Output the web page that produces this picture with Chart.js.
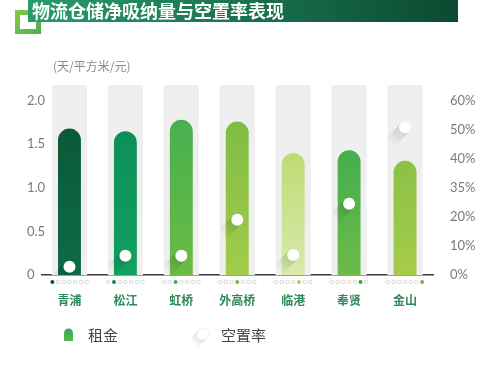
<!DOCTYPE html>
<html>
<head>
<meta charset="utf-8">
<script src="https://cdn.jsdelivr.net/npm/chart.js@4/dist/chart.umd.min.js"></script>
<style>
  html,body{margin:0;padding:0;background:#fff;}
  #wrap{width:500px;height:367px;position:relative;}
</style>
</head>
<body>
<div id="wrap"><canvas id="c" width="500" height="367"></canvas></div>
<script>
// 数据
const districts = ['青浦','松江','虹桥','外高桥','临港','奉贤','金山'];
const rent = [1.68, 1.65, 1.78, 1.76, 1.40, 1.43, 1.31];
const vacancy = [2.8, 6.6, 6.6, 19, 6.9, 24.5, 50.8];
const leftTicks = [0, 0.5, 1, 1.5, 2];
const leftTickLabels = ['0', '0.5', '1.0', '1.5', '2.0'];
const rightTicks = [0, 10, 20, 30, 40, 50, 60];
const rightTickLabels = ['0%', '10%', '20%', '35%', '40%', '50%', '60%'];
// 每根柱子的渐变色 [顶, 底]
const barColors = [
  ['#0a5434', '#0e6b45'],
  ['#0c8a55', '#12a060'],
  ['#3fae50', '#6cba46'],
  ['#76ba44', '#a3cb4a'],
  ['#b2d352', '#d8e9ad'],
  ['#2ea950', '#6dba48'],
  ['#78ba45', '#a6cc49']
];
const Y_MAX = 2.18;
const Y1_MAX = 60 * Y_MAX / 2;

const CJK = '"Noto Sans CJK SC", "Noto Sans", sans-serif';
const NUM = 'Lato, "Open Sans", sans-serif';

function barGradient(ctx){
  const chart = ctx.chart;
  const area = chart.chartArea;
  if(!area) return barColors[ctx.dataIndex][0];
  const c = barColors[ctx.dataIndex];
  const g = chart.ctx.createLinearGradient(0, area.top, 0, area.bottom);
  g.addColorStop(0, c[0]);
  g.addColorStop(1, c[1]);
  return g;
}

// 标题、单位、左轴刻度、横轴圆点、图例
const decor = {
  id:'decor',
  beforeDraw(chart){
    const ctx = chart.ctx;
    ctx.save();
    // 左侧方框装饰
    const sq = ctx.createLinearGradient(15, 10, 41, 34);
    sq.addColorStop(0, '#8cc84b'); sq.addColorStop(1, '#4caf50');
    ctx.strokeStyle = sq; ctx.lineWidth = 5;
    ctx.strokeRect(17.5, 12.5, 21, 19);
    // 标题条
    const g = ctx.createLinearGradient(28, 0, 458, 0);
    g.addColorStop(0, '#2a9b6c'); g.addColorStop(1, '#0a4a31');
    ctx.fillStyle = g;
    ctx.fillRect(28, 0, 430, 22);
    ctx.fillStyle = '#fff';
    ctx.font = 'bold 18px ' + CJK;
    ctx.textBaseline = 'middle';
    ctx.fillText('物流仓储净吸纳量与空置率表现', 32, 11);
    // 单位
    ctx.fillStyle = '#8a8a8a';
    ctx.font = '12px ' + CJK;
    ctx.fillText('(天/平方米/元)', 53, 66);
    // 左轴刻度（左对齐）
    const y = chart.scales.y;
    ctx.fillStyle = '#7a7a7a';
    ctx.font = '13px ' + NUM;
    leftTicks.forEach((v, i)=>{
      ctx.fillText(leftTickLabels[i], 27, y.getPixelForValue(v));
    });
    ctx.restore();
  },
  afterDraw(chart){
    const ctx = chart.ctx;
    const x = chart.scales.x;
    const yb = chart.chartArea.bottom;
    ctx.save();
    // 每个区下面的七个小圆点
    districts.forEach((d, i)=>{
      const cx = x.getPixelForValue(i);
      for(let k=0;k<districts.length;k++){
        const px = cx + (k-3)*5.7;
        ctx.beginPath();
        ctx.arc(px, yb+7, k===i?2:1.8, 0, Math.PI*2);
        if(k===i){ ctx.fillStyle = barColors[i][0]; ctx.fill(); }
        else { ctx.strokeStyle = '#cfcfcf'; ctx.lineWidth = 0.8; ctx.stroke(); }
      }
    });
    // 图例
    const ly = 335;
    const lg = ctx.createLinearGradient(0, ly-7, 0, ly+7);
    lg.addColorStop(0, '#3aa655'); lg.addColorStop(1, '#5cb94c');
    ctx.fillStyle = lg;
    ctx.beginPath();
    ctx.moveTo(64, ly+6);
    ctx.lineTo(64, ly-2);
    ctx.arc(68.5, ly-2, 4.5, Math.PI, 0);
    ctx.lineTo(73, ly+6);
    ctx.closePath();
    ctx.fill();
    ctx.fillStyle = '#444';
    ctx.font = '15px ' + CJK;
    ctx.textBaseline = 'middle';
    ctx.fillText('租金', 88, ly);
    // 空置率图例：白圆带阴影
    const cx0 = 203, cy0 = ly-1, r0 = 6, d0 = r0*Math.SQRT1_2, L0 = 14;
    const sg = ctx.createLinearGradient(cx0, cy0, cx0-L0*0.7, cy0+L0*0.7);
    sg.addColorStop(0, 'rgba(0,0,0,0.16)'); sg.addColorStop(1, 'rgba(0,0,0,0)');
    ctx.fillStyle = sg;
    ctx.beginPath();
    ctx.moveTo(cx0-d0, cy0-d0);
    ctx.lineTo(cx0+d0, cy0+d0);
    ctx.lineTo(cx0+d0-L0, cy0+d0+L0);
    ctx.lineTo(cx0-d0-L0, cy0-d0+L0);
    ctx.closePath(); ctx.fill();
    ctx.beginPath();
    ctx.arc(cx0, cy0, r0, 0, Math.PI*2);
    ctx.fillStyle = '#fff'; ctx.fill();
    ctx.strokeStyle = '#ececec'; ctx.lineWidth = 0.8; ctx.stroke();
    ctx.fillStyle = '#444';
    ctx.fillText('空置率', 221, ly);
    ctx.restore();
  }
};

// 空置率圆点的长阴影
const longShadow = {
  id:'longShadow',
  beforeDatasetDraw(chart, args){
    if(args.index !== 2) return;
    const ctx = chart.ctx;
    const area = chart.chartArea;
    const meta = chart.getDatasetMeta(2);
    const bg = chart.getDatasetMeta(0);
    ctx.save();
    meta.data.forEach((pt, i)=>{
      const bar = bg.data[i];
      const half = bar.width/2;
      ctx.save();
      ctx.beginPath();
      ctx.rect(bar.x-half, area.top, bar.width, area.bottom-area.top);
      ctx.clip();
      const r = 6, L = 22, d = r*Math.SQRT1_2;
      const g = ctx.createLinearGradient(pt.x, pt.y, pt.x-L*0.7, pt.y+L*0.7);
      g.addColorStop(0, 'rgba(0,0,0,0.16)');
      g.addColorStop(1, 'rgba(0,0,0,0)');
      ctx.fillStyle = g;
      ctx.beginPath();
      ctx.moveTo(pt.x-d, pt.y-d);
      ctx.lineTo(pt.x+d, pt.y+d);
      ctx.lineTo(pt.x+d-L, pt.y+d+L);
      ctx.lineTo(pt.x-d-L, pt.y-d+L);
      ctx.closePath();
      ctx.fill();
      ctx.restore();
    });
    ctx.restore();
  }
};

new Chart(document.getElementById('c'), {
  data:{
    labels: districts,
    datasets:[
      {type:'bar', label:'背景', data: districts.map(()=>Y_MAX), backgroundColor:'#efefef',
       grouped:false, barPercentage:0.63, categoryPercentage:1, order:3},
      {type:'bar', label:'租金', data: rent, backgroundColor: barGradient,
       borderRadius:{topLeft:12, topRight:12, bottomLeft:0, bottomRight:0}, borderSkipped:false,
       grouped:false, barPercentage:0.41, categoryPercentage:1, order:2},
      {type:'line', label:'空置率', data: vacancy, yAxisID:'y1', showLine:false,
       pointRadius:6, pointHoverRadius:6, pointBackgroundColor:'#fff', pointBorderWidth:0, order:1}
    ]
  },
  options:{
    responsive:false, animation:false, devicePixelRatio:1,
    layout:{padding:{top:85, left:27, right:0, bottom:0}},
    plugins:{legend:{display:false}, tooltip:{enabled:false}},
    scales:{
      x:{
        grid:{display:false, drawTicks:false},
        border:{display:true, color:'#3a3a3a', width:1.5},
        ticks:{color:'#2e8a5a', font:{family:CJK, size:12, weight:'bold'}, padding:18, autoSkip:false, maxRotation:0},
        afterFit(s){ s.height = 92; }
      },
      y:{
        position:'left', min:0, max:Y_MAX,
        grid:{display:false, drawTicks:false}, border:{display:false},
        afterBuildTicks(s){ s.ticks = leftTicks.map(v=>({value:v})); },
        ticks:{display:false},
        afterFit(s){ s.width = 14.5; }
      },
      y1:{
        position:'right', min:0, max:Y1_MAX,
        grid:{display:false, drawTicks:false}, border:{display:false},
        afterBuildTicks(s){ s.ticks = rightTicks.map(v=>({value:v})); },
        ticks:{color:'#7a7a7a', font:{family:NUM, size:13}, padding:17,
               callback:(v)=>rightTickLabels[rightTicks.indexOf(v)]},
        afterFit(s){ s.width = 67; }
      }
    }
  },
  plugins:[decor, longShadow]
});
</script>
</body>
</html>
